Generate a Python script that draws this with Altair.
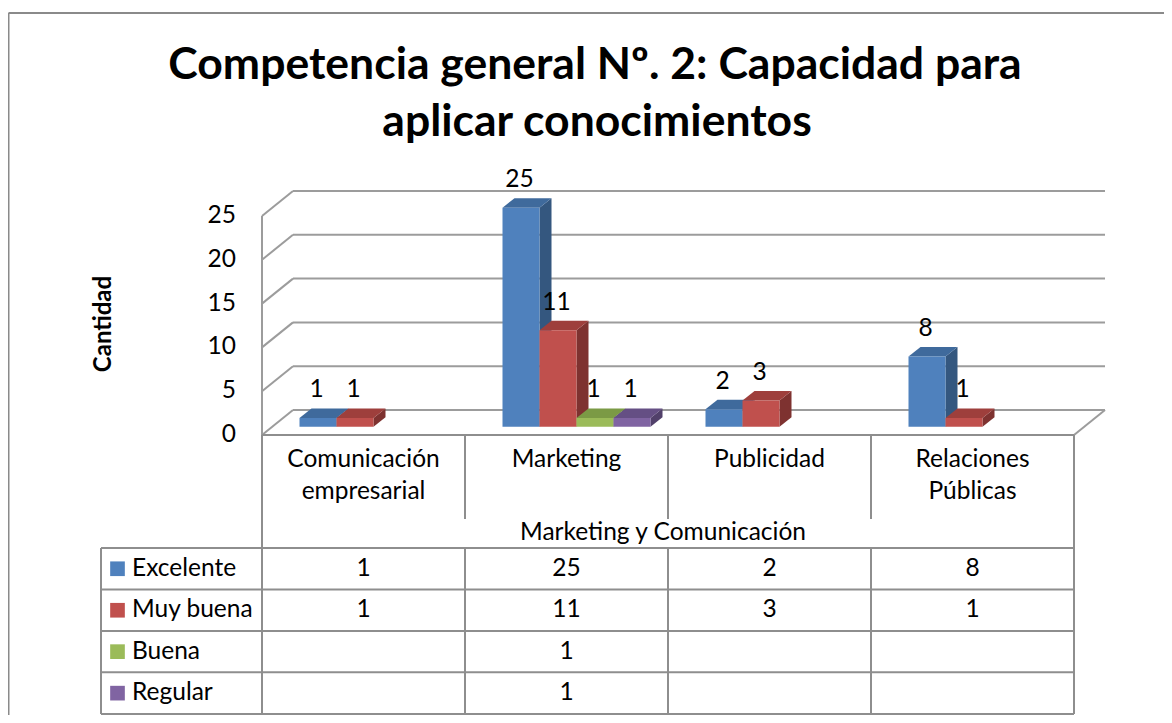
import altair as alt
import pandas as pd

# ---------------- data ----------------
categories = ["Comunicación\nempresarial", "Marketing", "Publicidad", "Relaciones\nPúblicas"]
group_label = "Marketing y Comunicación"
series = ["Excelente", "Muy buena", "Buena", "Regular"]
excelente = [1, 25, 2, 8]
muy_buena = [1, 11, 3, 1]
buena = [None, 1, None, None]
regular = [None, 1, None, None]
y_ticks = [0, 5, 10, 15, 20, 25]
title_lines = ["Competencia general Nº. 2: Capacidad para", "aplicar conocimientos"]
y_title = "Cantidad"

values = [excelente, muy_buena, buena, regular]

# ---------------- styles ----------------
FRONT = ["#4F81BD", "#C0504D", "#9BBB59", "#8064A2"]
TOP = ["#3F6A9C", "#9E3F3C", "#7B9A45", "#654F84"]
SIDE = ["#34577F", "#7E3230", "#627B36", "#51406A"]
GRID = "#9c9c9c"
LINE = "#8e8e8e"
FONT = "Lato"
TXT = 24.5

# ---------------- layout (page pixels) ----------------
W, H = 1156, 707
M = 8
X0, XU = 262.0, 203.0   # left edge of first category column, px per category
Y0, YU = 426.7, 8.76    # bar base, px per value unit


def ux(px):
    return (px - X0) / XU


def uy(py):
    return (Y0 - py) / YU


x_scale = alt.Scale(domain=[ux(M), ux(M + W)], nice=False, zero=False)
y_scale = alt.Scale(domain=[uy(M + H), uy(M)], nice=False, zero=False)

n = len(categories)
COL_RIGHT = X0 + n * XU
FRONT_BASE = 435.0
BACK_BASE = 410.0
WALL_DX = 31.0


def seg(x1, y1, x2, y2):
    return dict(x=ux(x1), y=uy(y1), x2=ux(x2), y2=uy(y2))


# walls / gridlines
grid = []
for v in y_ticks:
    grid.append(dict(x=ux(X0 + WALL_DX), x2=ux(COL_RIGHT + WALL_DX),
                     y=uy(BACK_BASE) + v, y2=uy(BACK_BASE) + v))
    grid.append(dict(x=ux(X0), x2=ux(X0 + WALL_DX),
                     y=uy(FRONT_BASE) + v, y2=uy(BACK_BASE) + v))
grid.append(dict(x=ux(X0), x2=ux(X0), y=uy(FRONT_BASE), y2=uy(FRONT_BASE) + max(y_ticks)))
grid.append(seg(COL_RIGHT, FRONT_BASE, COL_RIGHT + WALL_DX, BACK_BASE))

# table lines
T_LEFT = 101
CAT_BOT = 519
HEAD_BOT = 548
ROW_Y = [548, 589.5, 631, 672.3, 714]
table = [seg(X0, FRONT_BASE, COL_RIGHT, FRONT_BASE)]
for i in range(n + 1):
    xx = X0 + i * XU
    table.append(seg(xx, FRONT_BASE, xx, CAT_BOT))
    table.append(seg(xx, HEAD_BOT, xx, ROW_Y[-1]))
table.append(seg(X0, CAT_BOT, X0, HEAD_BOT))
table.append(seg(COL_RIGHT, CAT_BOT, COL_RIGHT, HEAD_BOT))
for yy in ROW_Y:
    table.append(seg(T_LEFT, yy, COL_RIGHT, yy))
table.append(seg(T_LEFT, HEAD_BOT, T_LEFT, ROW_Y[-1]))

# outer frame
frame = [seg(8.5, 13, 8.5, M + H), seg(8.5, 13, M + W, 13)]

# bars (3D)
BAR_OFF = 37.5 / XU
BAR_W = 37.0 / XU
DX = 12.0 / XU
DZ = 9.5 / YU
fronts, tops, sides, labels = [], [], [], []
for s, vals in enumerate(values):
    for i, v in enumerate(vals):
        if v is None:
            continue
        x0 = i + BAR_OFF + s * BAR_W
        x1 = x0 + BAR_W
        bid = f"{s}-{i}"
        fronts.append(dict(x=x0, x2=x1, y=0, y2=v, c=FRONT[s]))
        for xx, lo, hi in [(x0, v, v), (x0 + DX, v, v + DZ), (x1, v, v + DZ), (x1 + DX, v + DZ, v + DZ)]:
            tops.append(dict(id=bid, x=xx, y=lo, y2=hi, c=TOP[s]))
        for xx, lo, hi in [(x1, 0, v), (x1 + DX, DZ, v + DZ)]:
            sides.append(dict(id=bid, x=xx, y=lo, y2=hi, c=SIDE[s]))
        labels.append(dict(x=(x0 + x1) / 2 - 1.5 / XU, y=v, t=str(v)))

# texts
tick_text = [dict(x=ux(236), y=uy(FRONT_BASE) + v, t=str(v)) for v in y_ticks]
cat_text = []
for i, c in enumerate(categories):
    for k, line in enumerate(c.split("\n")):
        cat_text.append(dict(x=i + 0.5, y=uy(460 + 32 * k), t=line))
row_c = [(ROW_Y[k] + ROW_Y[k + 1]) / 2 for k in range(len(series))]
cell_text = []
for s, vals in enumerate(values):
    for i, v in enumerate(vals):
        if v is not None:
            cell_text.append(dict(x=i + 0.5, y=uy(row_c[s]), t=str(v)))
legend_sq = [dict(x=ux(117.5), y=uy(row_c[s]), c=FRONT[s]) for s in range(len(series))]
legend_tx = [dict(x=ux(132), y=uy(row_c[s]), t=series[s]) for s in range(len(series))]
header_tx = [dict(x=ux(663), y=uy(533), t=group_label)]
ytitle_tx = [dict(x=ux(104), y=uy(324), t=y_title)]
title_tx = [dict(x=ux(595), y=uy(79), t=title_lines[0]),
            dict(x=ux(597), y=uy(136), t=title_lines[1])]

X = alt.X("x:Q", scale=x_scale, axis=None)
Y = alt.Y("y:Q", scale=y_scale, axis=None)
C = alt.Color("c:N", scale=None)


def rules(rows, color, width):
    return alt.Chart(pd.DataFrame(rows)).mark_rule(color=color, strokeWidth=width).encode(
        x=X, y=Y, x2="x2:Q", y2="y2:Q")


def texts(rows, size, align="center", baseline="middle", weight="normal", angle=0, dy=0):
    kw = dict(font=FONT, fontSize=size, align=align, baseline=baseline,
              fontWeight=weight, color="#000000", dy=dy)
    if angle:
        kw["angle"] = angle
    return alt.Chart(pd.DataFrame(rows)).mark_text(**kw).encode(x=X, y=Y, text="t:N")


layers = [
    rules(frame, "#8a8a8a", 2),
    rules(grid, GRID, 2),
    rules(table, LINE, 2),
    alt.Chart(pd.DataFrame(sides)).mark_area(orient="vertical").encode(
        x=X, y=Y, y2="y2:Q", detail="id:N", color=C),
    alt.Chart(pd.DataFrame(tops)).mark_area(orient="vertical").encode(
        x=X, y=Y, y2="y2:Q", detail="id:N", color=C),
    alt.Chart(pd.DataFrame(fronts)).mark_rect().encode(
        x=X, x2="x2:Q", y=Y, y2="y2:Q", color=C),
    texts(labels, TXT, dy=-27.5),
    texts(tick_text, TXT, align="right"),
    texts(cat_text, TXT),
    texts(cell_text, TXT),
    texts(header_tx, TXT),
    alt.Chart(pd.DataFrame(legend_sq)).mark_square(size=215, opacity=1).encode(x=X, y=Y, color=C),
    texts(legend_tx, TXT, align="left"),
    texts(ytitle_tx, 24, weight="bold", angle=270),
    texts(title_tx, 44.5, baseline="alphabetic", weight="bold"),
]

chart = alt.layer(*layers).properties(
    width=W, height=H, padding=0, autosize=alt.AutoSizeParams(type="none"),
    background="#ffffff",
).configure_view(strokeWidth=0)

chart.save("out.html", embed_options={"renderer": "svg", "actions": False})
